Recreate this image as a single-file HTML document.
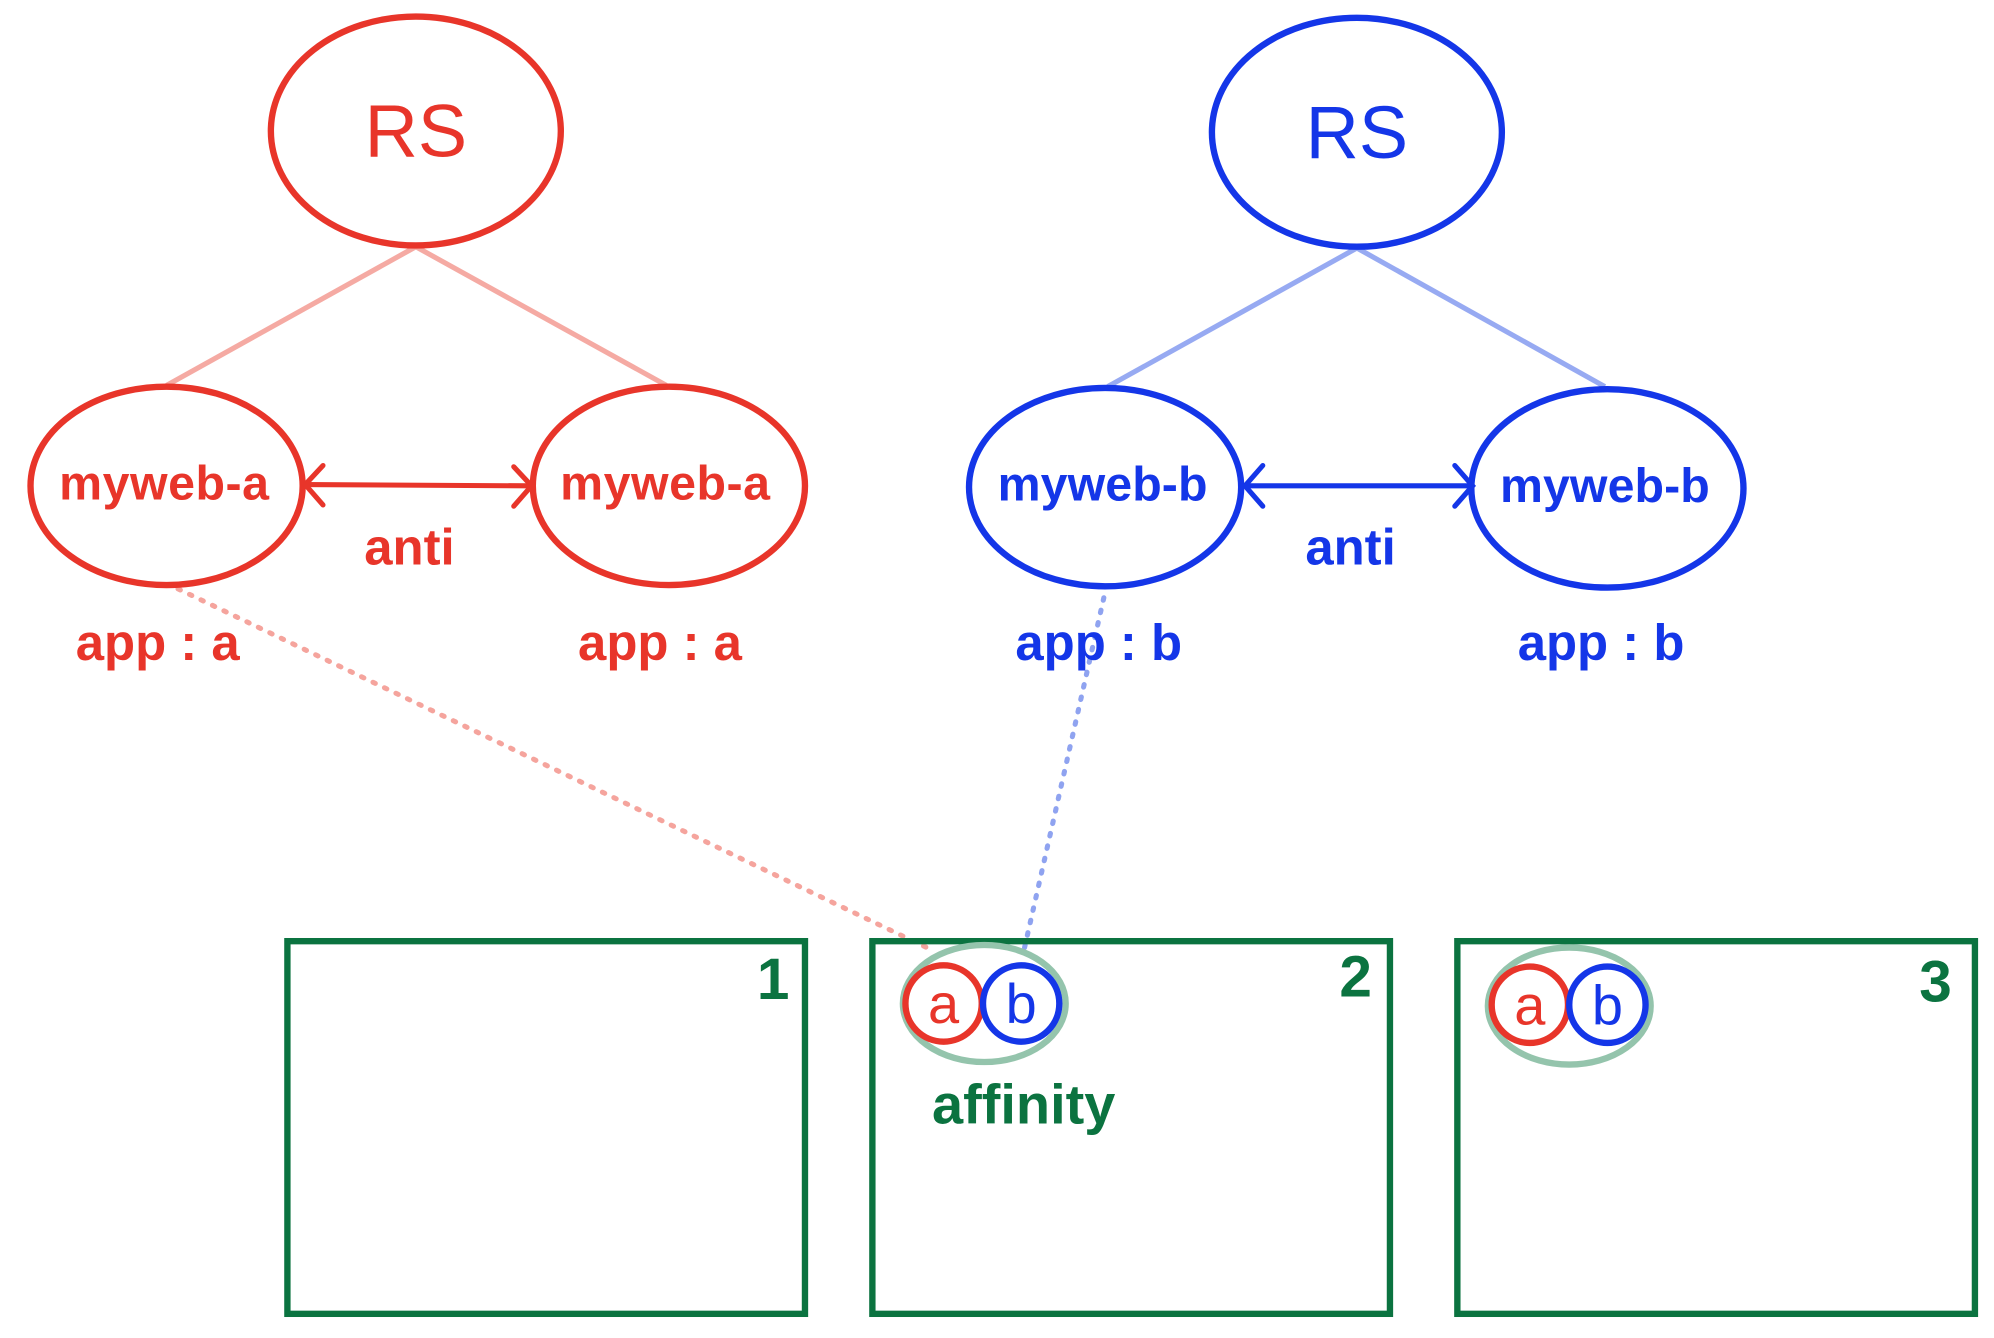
<!DOCTYPE html>
<html><head><meta charset="utf-8"><style>
html,body{margin:0;padding:0;background:#fff;}
svg{display:block;}
text{font-family:"Liberation Sans",sans-serif;text-anchor:middle;dominant-baseline:central;}
</style></head><body>
<svg width="1994" height="1338" viewBox="0 0 1568 1052" preserveAspectRatio="none" xmlns="http://www.w3.org/2000/svg">
<!-- connectors -->
<line x1="327" y1="194" x2="131" y2="303" stroke="#f5aaa3" stroke-width="4"/>
<line x1="327" y1="194" x2="524" y2="303" stroke="#f5aaa3" stroke-width="4"/>
<line x1="1067" y1="195" x2="871" y2="304" stroke="#97aaf2" stroke-width="4"/>
<line x1="1067" y1="195" x2="1262" y2="304" stroke="#97aaf2" stroke-width="4"/>
<line x1="140" y1="463" x2="735" y2="748" stroke="#f5a49d" stroke-width="4" stroke-dasharray="2 8" stroke-linecap="round"/>
<line x1="868" y1="470" x2="805" y2="748" stroke="#8fa3f0" stroke-width="4" stroke-dasharray="2 8" stroke-linecap="round"/>
<!-- RS -->
<ellipse cx="327" cy="103" rx="114" ry="90" fill="none" stroke="#e8352a" stroke-width="5"/>
<text x="327" y="103" font-size="58" fill="#e8352a">RS</text>
<ellipse cx="1067" cy="104" rx="114" ry="90" fill="none" stroke="#1436e8" stroke-width="5"/>
<text x="1067" y="104" font-size="58" fill="#1436e8">RS</text>
<!-- pods -->
<g fill="none" stroke-width="5">
<ellipse cx="131" cy="382" rx="107" ry="78" stroke="#e8352a"/>
<ellipse cx="526" cy="382" rx="107" ry="78" stroke="#e8352a"/>
<ellipse cx="869" cy="383" rx="107" ry="78" stroke="#1436e8"/>
<ellipse cx="1264" cy="384" rx="107" ry="78" stroke="#1436e8"/>
</g>
<g font-size="38" font-weight="bold">
<text x="129" y="380" fill="#e8352a" textLength="165">myweb-a</text>
<text x="523" y="380" fill="#e8352a" textLength="165">myweb-a</text>
<text x="867" y="381" fill="#1436e8" textLength="165">myweb-b</text>
<text x="1262" y="382" fill="#1436e8" textLength="165">myweb-b</text>
</g>
<!-- arrows -->
<g fill="none" stroke-width="4" stroke-linecap="round">
<line x1="240" y1="381" x2="417" y2="382" stroke="#e8352a"/>
<polyline points="254,366 240,381 254,397" stroke="#e8352a"/>
<polyline points="404,367 418,382 404,398" stroke="#e8352a"/>
<line x1="979" y1="382" x2="1157" y2="382" stroke="#1436e8"/>
<polyline points="993,366 979,382 993,398" stroke="#1436e8"/>
<polyline points="1144,366 1158,382 1144,398" stroke="#1436e8"/>
</g>
<g font-size="40" font-weight="bold">
<text x="322" y="430" fill="#e8352a">anti</text>
<text x="1062" y="430" fill="#1436e8">anti</text>
<text x="124" y="505" fill="#e8352a">app : a</text>
<text x="519" y="505" fill="#e8352a">app : a</text>
<text x="864" y="505" fill="#1436e8">app : b</text>
<text x="1259" y="505" fill="#1436e8">app : b</text>
</g>
<!-- boxes -->
<g fill="none" stroke="#0b7340" stroke-width="5">
<rect x="226" y="740" width="407" height="293"/>
<rect x="686" y="740" width="407" height="293"/>
<rect x="1146" y="740" width="407" height="293"/>
</g>
<g font-size="46" font-weight="bold" fill="#0b7340">
<text x="608" y="770">1</text>
<text x="1066" y="768">2</text>
<text x="1522" y="772">3</text>
</g>
<!-- affinity groups -->
<ellipse cx="774" cy="789" rx="64" ry="46" fill="none" stroke="#94c4ac" stroke-width="5"/>
<circle cx="742" cy="789" r="30" fill="none" stroke="#e8352a" stroke-width="5"/>
<circle cx="803" cy="789" r="30" fill="none" stroke="#1436e8" stroke-width="5"/>
<text x="742" y="789" font-size="44" fill="#e8352a">a</text>
<text x="803" y="789" font-size="44" fill="#1436e8">b</text>
<ellipse cx="1234" cy="791" rx="64" ry="46" fill="none" stroke="#94c4ac" stroke-width="5"/>
<circle cx="1203" cy="790" r="30" fill="none" stroke="#e8352a" stroke-width="5"/>
<circle cx="1264" cy="790" r="30" fill="none" stroke="#1436e8" stroke-width="5"/>
<text x="1203" y="790" font-size="44" fill="#e8352a">a</text>
<text x="1264" y="790" font-size="44" fill="#1436e8">b</text>
<text x="805" y="868" font-size="44" font-weight="bold" fill="#0b7340">affinity</text>
</svg>
</body></html>
